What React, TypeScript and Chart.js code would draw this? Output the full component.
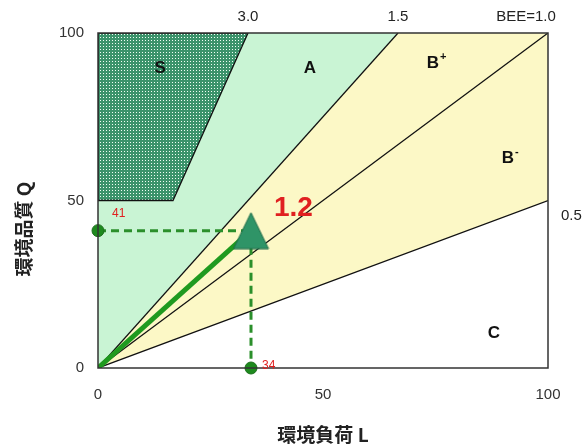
import React, { useEffect, useRef } from "react";
import { Chart, registerables } from "chart.js";

Chart.register(...registerables);

// BEE boundary lines (Q = BEE * L), clipped to the 0..100 frame
const beeValues = [3.0, 1.5, 1.0, 0.5];
const beeTopLabels = ["3.0", "1.5", "BEE=1.0"];
const beeSideLabel = "0.5";
const axisTicks = [0, 50, 100];
// Evaluated building
const pointL = 34;
const pointQ = 41;
const pointBEE = "1.2";
// Region polygons (L, Q)
const regionS = [
  { x: 0, y: 50 },
  { x: 0, y: 100 },
  { x: 100 / 3, y: 100 },
  { x: 50 / 3, y: 50 },
  { x: 0, y: 50 },
];
const regionA = [
  { x: 0, y: 0 },
  { x: 0, y: 100 },
  { x: 200 / 3, y: 100 },
  { x: 0, y: 0 },
];
const regionB = [
  { x: 0, y: 0 },
  { x: 200 / 3, y: 100 },
  { x: 100, y: 100 },
  { x: 100, y: 50 },
  { x: 0, y: 0 },
];
// Rank labels: text and their (L, Q) spot
const rankNames = ["S", "A", "B", "B", "C"];
const rankSup = ["", "", "+", "-", ""];
const rankL = [13.8, 47.1, 74.4, 91.1, 88];
const rankQ = [89.5, 89.5, 91, 62.7, 10.4];

function lineTo(bee: number) {
  const xEnd = Math.min(100, 100 / bee);
  return [
    { x: 0, y: 0 },
    { x: xEnd, y: bee * xEnd },
  ];
}

function makePattern(): CanvasPattern | string {
  const c = document.createElement("canvas");
  c.width = 3;
  c.height = 3;
  const g = c.getContext("2d");
  if (!g) return "#4f9f7a";
  g.fillStyle = "#3b936b";
  g.fillRect(0, 0, 3, 3);
  g.fillStyle = "#f0fff5";
  g.fillRect(1, 1, 1, 1);
  const p = g.createPattern(c, "repeat");
  return p || "#4f9f7a";
}

function makeTriangle(): HTMLCanvasElement {
  const w = 37;
  const h = 38;
  const c = document.createElement("canvas");
  c.width = w;
  c.height = h;
  const g = c.getContext("2d");
  if (g) {
    g.beginPath();
    g.moveTo(w / 2, 1);
    g.lineTo(w - 1, h - 1);
    g.lineTo(1, h - 1);
    g.closePath();
    g.fillStyle = "#2f9467";
    g.fill();
    g.strokeStyle = "#1e6b48";
    g.lineWidth = 1;
    g.stroke();
  }
  return c;
}

const labelPlugin = {
  id: "beeLabels",
  afterDraw(chart: any) {
    const { ctx, chartArea, scales } = chart;
    const xs = scales.x;
    const ys = scales.y;
    ctx.save();
    // frame
    ctx.strokeStyle = "#333";
    ctx.lineWidth = 1.5;
    ctx.strokeRect(chartArea.left, chartArea.top, chartArea.right - chartArea.left, chartArea.bottom - chartArea.top);

    ctx.textAlign = "center";
    ctx.textBaseline = "middle";
    // rank labels
    for (let i = 0; i < rankNames.length; i++) {
      const px = xs.getPixelForValue(rankL[i]);
      const py = ys.getPixelForValue(rankQ[i]);
      ctx.fillStyle = "#111";
      ctx.font = "bold 17px 'Liberation Sans', Arial, sans-serif";
      ctx.fillText(rankNames[i], px, py);
      if (rankSup[i]) {
        const w = ctx.measureText(rankNames[i]).width;
        ctx.font = "bold 11px 'Liberation Sans', Arial, sans-serif";
        ctx.textAlign = "left";
        ctx.fillText(rankSup[i], px + w / 2 + 1, py - 6);
        ctx.textAlign = "center";
      }
    }
    // top BEE labels
    ctx.fillStyle = "#222";
    ctx.font = "15px 'Liberation Sans', Arial, sans-serif";
    for (let i = 0; i < beeTopLabels.length; i++) {
      const L = 100 / beeValues[i];
      const px = xs.getPixelForValue(L);
      ctx.textAlign = "center";
      ctx.fillText(beeTopLabels[i], px - (i === 2 ? 22 : 0), chartArea.top - 16);
    }
    ctx.textAlign = "left";
    ctx.fillText(beeSideLabel, chartArea.right + 13, ys.getPixelForValue(100 * beeValues[3]) + 15);

    // point value labels
    ctx.fillStyle = "#e02020";
    ctx.font = "12px 'Liberation Sans', Arial, sans-serif";
    ctx.textAlign = "left";
    ctx.fillText(String(pointQ), xs.getPixelForValue(0) + 14, ys.getPixelForValue(pointQ) - 17);
    ctx.fillText(String(pointL), xs.getPixelForValue(pointL) + 11, ys.getPixelForValue(0) - 2);
    ctx.font = "bold 28px 'Liberation Sans', Arial, sans-serif";
    ctx.fillText(pointBEE, xs.getPixelForValue(pointL) + 23, ys.getPixelForValue(pointQ) - 22);

    // y axis title
    ctx.fillStyle = "#222";
    ctx.font = "bold 19px 'Noto Sans CJK JP', sans-serif";
    ctx.translate(24, 229);
    ctx.rotate(-Math.PI / 2);
    ctx.textAlign = "center";
    ctx.fillText("環境品質 Q", 0, 0);
    ctx.restore();
  },
};

export default function App() {
  const ref = useRef<HTMLCanvasElement | null>(null);
  useEffect(() => {
    if (!ref.current) return;
    const pattern = makePattern();
    const tri = makeTriangle();
    const green = "#2b8f2b";
    const chart = new Chart(ref.current, {
      type: "scatter",
      data: {
        datasets: [
          {
            label: "point",
            data: [{ x: pointL, y: pointQ }],
            pointStyle: tri,
            pointRadius: 20,
            clip: false,
            order: 0,
          },
          {
            label: "vector",
            data: [
              { x: 0, y: 0 },
              { x: pointL, y: pointQ },
            ],
            showLine: true,
            borderColor: "#1f9a1f",
            borderWidth: 5,
            pointRadius: 0,
            order: 1,
          },
          {
            label: "guides",
            data: [
              { x: 0, y: pointQ },
              { x: pointL, y: pointQ },
              { x: pointL, y: 0 },
            ],
            showLine: true,
            borderColor: green,
            borderWidth: 3,
            borderDash: [8, 5],
            pointRadius: [6, 0, 6],
            backgroundColor: "#1e8a1e",
            pointBorderColor: "#1b6e1b",
            pointBorderWidth: 1,
            clip: false,
            order: 2,
          },
          ...beeValues.slice(1).map((b, i) => ({
            label: "BEE " + b,
            data: lineTo(b),
            showLine: true,
            borderColor: "#111",
            borderWidth: 1.3,
            pointRadius: 0,
            order: 3 + i,
          })),
          {
            label: "S",
            data: regionS,
            showLine: true,
            fill: "shape",
            backgroundColor: pattern as any,
            borderColor: "#111",
            borderWidth: 1.3,
            pointRadius: 0,
            order: 8,
          },
          {
            label: "A",
            data: regionA,
            showLine: true,
            fill: "shape",
            backgroundColor: "#c9f4d4",
            borderColor: "rgba(0,0,0,0)",
            borderWidth: 0,
            pointRadius: 0,
            order: 9,
          },
          {
            label: "B",
            data: regionB,
            showLine: true,
            fill: "shape",
            backgroundColor: "#fcf8c6",
            borderColor: "rgba(0,0,0,0)",
            borderWidth: 0,
            pointRadius: 0,
            order: 10,
          },
        ],
      },
      options: {
        animation: false,
        responsive: true,
        maintainAspectRatio: false,
        layout: { padding: { left: 0, right: 36, top: 33, bottom: 0 } },
        plugins: {
          legend: { display: false },
          tooltip: { enabled: false },
          title: { display: false },
        },
        scales: {
          x: {
            type: "linear",
            min: 0,
            max: 100,
            afterBuildTicks: (s: any) => {
              s.ticks = axisTicks.map((v) => ({ value: v }));
            },
            afterFit: (s: any) => {
              s.height = 78;
            },
            grid: { display: false },
            border: { display: false },
            ticks: {
              padding: 10,
              color: "#333",
              font: { size: 15, family: "'Liberation Sans', Arial, sans-serif" },
            },
            title: {
              display: true,
              text: "環境負荷 L",
              color: "#222",
              padding: { top: 0, bottom: 0 },
              font: { size: 19, weight: "bold", family: "'Noto Sans CJK JP', sans-serif" },
            },
          },
          y: {
            type: "linear",
            min: 0,
            max: 100,
            afterBuildTicks: (s: any) => {
              s.ticks = axisTicks.map((v) => ({ value: v }));
            },
            afterFit: (s: any) => {
              s.width = 98;
            },
            grid: { display: false },
            border: { display: false },
            ticks: {
              padding: 6,
              color: "#333",
              font: { size: 15, family: "'Liberation Sans', Arial, sans-serif" },
            },
          },
        },
      },
      plugins: [labelPlugin],
    } as any);
    return () => chart.destroy();
  }, []);
  return (
    <div style={{ position: "fixed", left: 0, top: 0, width: 584, height: 446, background: "#fff" }}>
      <canvas ref={ref} />
    </div>
  );
}
